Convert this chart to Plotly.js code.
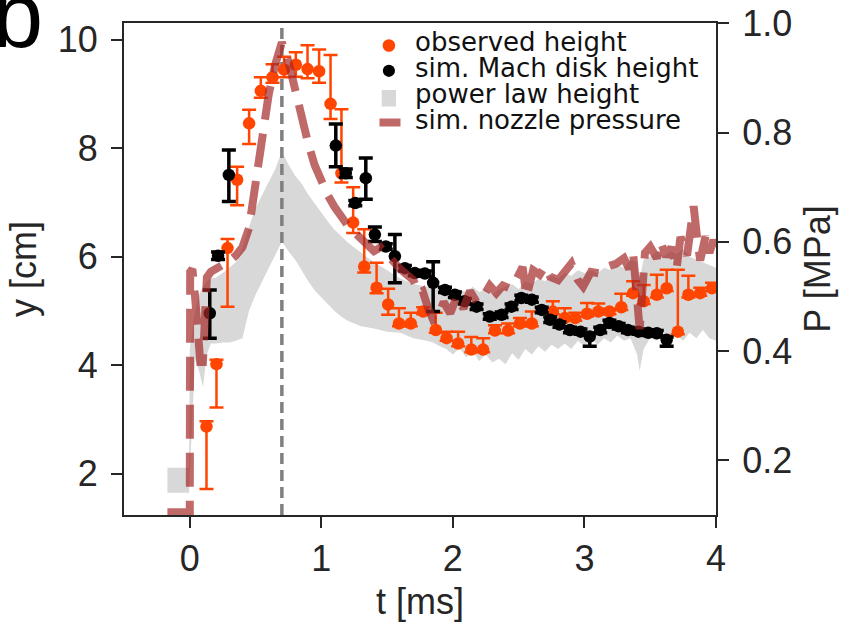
<!DOCTYPE html>
<html>
<head>
<meta charset="utf-8">
<script src="https://cdn.plot.ly/plotly-3.0.1.min.js"></script>
<style>html,body{margin:0;padding:0;background:#fff;}#chart{width:847px;height:622px;}</style>
</head>
<body>
<div id="chart"></div>
<script>
// ---- observed height (cm) ----
const obsT = [0.127,0.203,0.287,0.36,0.451,0.54,0.629,0.717,0.806,0.895,0.983,1.07,1.153,1.242,1.326,1.42,1.508,1.59,1.68,1.774,1.87,1.952,2.04,2.14,2.23,2.32,2.42,2.51,2.60,2.76,2.85,2.93,3.02,3.105,3.19,3.28,3.37,3.45,3.55,3.625,3.71,3.79,3.88,3.97];
const obsY = [2.87,4.02,6.16,7.42,8.46,9.06,9.31,9.45,9.54,9.46,9.42,8.82,7.54,6.63,5.82,5.43,5.12,4.77,4.77,4.99,4.65,4.50,4.40,4.29,4.29,4.64,4.64,4.77,4.77,4.99,4.87,4.87,4.95,4.99,4.99,5.07,5.33,5.18,5.30,5.42,4.62,5.30,5.33,5.42];
const obsUp = [0.1,0.08,0.17,0.24,0.25,0.25,0.24,0.24,0.23,0.44,0.40,0.90,1.18,0.65,0.69,0.46,0.29,0.28,0.2,0.08,0.32,0.12,0.22,0.23,0.21,0.1,0.13,0.1,0.22,0.19,0.18,0.1,0.2,0.15,0.05,0.25,0.22,0.3,0.37,0.34,1.14,0.35,0.1,0.1];
const obsDn = [1.15,0.8,1.08,0.47,0.38,0.13,0.1,0.14,0.22,0.17,0.21,0.28,0.17,0.19,0.11,0.1,0.19,0.05,0.05,0.05,0.05,0.05,0.05,0.05,0.05,0.05,0.05,0.05,0.05,0.05,0.05,0.05,0.05,0.05,0.05,0.05,0.05,0.05,0.05,0.05,0.05,0.05,0.05,0.05];

// ---- simulated Mach disk height (cm) ----
const simT = [0.152,0.215,0.297,1.11,1.186,1.258,1.338,1.407,1.49,1.559,1.635,1.71,1.787,1.85,1.94,2.015,2.09,2.18,2.28,2.37,2.446,2.52,2.60,2.675,2.74,2.81,2.89,2.97,3.04,3.12,3.19,3.26,3.33,3.41,3.485,3.55,3.625];
const simY = [4.96,6.02,7.51,8.05,7.54,6.99,7.45,6.41,6.19,6.01,5.79,5.70,5.69,5.52,5.39,5.30,5.18,5.08,4.90,4.93,5.08,5.24,5.21,5.02,4.84,4.75,4.65,4.62,4.53,4.65,4.78,4.72,4.65,4.62,4.60,4.59,4.47];
const simUp = [0.43,0.07,0.46,0.40,0.08,0.05,0.37,0.14,0.05,0.40,0.05,0.05,0.05,0.39,0.05,0.05,0.05,0.05,0.05,0.05,0.05,0.05,0.05,0.05,0.05,0.05,0.05,0.05,0.05,0.05,0.05,0.05,0.05,0.05,0.05,0.05,0.05];
const simDn = [0.46,0.07,0.49,0.39,0.08,0.05,0.39,0.13,0.05,0.49,0.05,0.05,0.05,0.53,0.05,0.05,0.05,0.05,0.05,0.05,0.05,0.05,0.05,0.05,0.05,0.05,0.05,0.05,0.18,0.05,0.05,0.05,0.05,0.05,0.05,0.05,0.12];

// ---- power law height band (cm) ----
const plT = [-0.17,-0.005,0.0,0.04,0.07,0.1,0.13,0.16,0.2,0.25,0.3,0.35,0.4,0.45,0.5,0.55,0.6,0.65,0.7,0.75,0.8,0.85,0.9,0.95,1.0,1.05,1.1,1.15,1.2,1.25,1.3,1.4,1.5,1.6,1.7,1.8,1.85,1.9,1.95,2.0,2.05,2.1,2.15,2.2,2.25,2.3,2.35,2.4,2.45,2.5,2.55,2.6,2.65,2.7,2.75,2.8,2.85,2.9,2.95,3.0,3.05,3.1,3.15,3.2,3.25,3.3,3.35,3.4,3.42,3.45,3.5,3.55,3.6,3.65,3.7,3.75,3.8,3.85,3.9,3.95,4.0];
const plLow = [1.65,1.65,2.0,4.1,3.9,3.6,4.2,4.4,4.4,4.42,4.42,4.45,4.5,5.0,5.3,5.55,5.8,6.02,6.28,6.1,5.95,5.75,5.55,5.38,5.25,5.12,5.0,4.9,4.82,4.77,4.72,4.68,4.62,4.6,4.5,4.45,4.42,4.35,4.3,4.2,4.32,4.15,4.25,4.08,4.2,4.05,4.12,4.02,4.22,4.1,4.3,4.2,4.35,4.25,4.38,4.3,4.4,4.3,4.45,4.35,4.5,4.38,4.5,4.42,4.55,4.45,4.5,4.2,3.9,4.3,4.5,4.45,4.6,4.5,4.55,4.45,4.6,4.5,4.65,4.5,4.45];
const plHigh = [2.11,2.11,4.3,5.0,5.3,5.45,5.55,5.6,5.62,5.7,5.8,5.9,6.15,6.55,6.9,7.15,7.38,7.62,7.94,7.7,7.5,7.35,7.15,6.98,6.82,6.65,6.5,6.38,6.27,6.17,6.08,5.9,5.75,5.6,5.5,5.45,5.5,5.4,5.45,5.35,5.4,5.35,5.45,5.35,5.4,5.3,5.4,5.45,5.5,5.4,5.55,5.5,5.6,5.55,5.65,5.6,5.7,5.65,5.75,5.7,5.75,5.7,5.8,5.75,5.85,5.8,5.95,5.9,5.6,5.95,6.0,6.1,6.0,6.1,6.05,6.15,6.0,5.95,5.9,5.85,5.8];

// ---- simulated nozzle pressure (MPa) ----
const pT = [-0.17,0.0,0.003,0.02,0.04,0.06,0.08,0.1,0.115,0.13,0.16,0.2,0.25,0.3,0.35,0.4,0.45,0.5,0.55,0.6,0.65,0.7,0.75,0.8,0.85,0.9,0.95,1.0,1.05,1.1,1.15,1.2,1.25,1.3,1.35,1.4,1.45,1.5,1.55,1.6,1.65,1.7,1.74,1.77,1.81,1.85,1.88,1.93,1.98,2.03,2.08,2.13,2.18,2.23,2.28,2.33,2.38,2.43,2.48,2.53,2.56,2.61,2.66,2.7,2.74,2.8,2.86,2.9,2.95,2.99,3.05,3.12,3.18,3.24,3.3,3.34,3.37,3.42,3.46,3.5,3.55,3.58,3.62,3.66,3.7,3.73,3.78,3.81,3.83,3.86,3.88,3.92,3.95,3.98,4.0];
const pV = [0.105,0.105,0.545,0.55,0.50,0.42,0.38,0.38,0.45,0.535,0.545,0.55,0.555,0.565,0.575,0.59,0.625,0.71,0.80,0.87,0.925,0.965,0.93,0.875,0.825,0.78,0.74,0.71,0.685,0.664,0.645,0.63,0.618,0.605,0.595,0.583,0.59,0.575,0.565,0.55,0.54,0.53,0.506,0.51,0.48,0.457,0.46,0.49,0.469,0.50,0.478,0.51,0.49,0.50,0.52,0.506,0.52,0.515,0.53,0.554,0.50,0.548,0.54,0.555,0.536,0.53,0.548,0.56,0.53,0.518,0.545,0.542,0.555,0.56,0.57,0.55,0.579,0.44,0.58,0.591,0.57,0.60,0.573,0.59,0.55,0.609,0.575,0.62,0.665,0.60,0.566,0.61,0.58,0.603,0.59];

// ---- peak time marker and axes ----
const peakT = [0.7, 0.7];
const yRange = [1.24, 10.31];
const pRange = [0.1, 1.0005];
const xTicks = [0, 1, 2, 3, 4];
const yTicks = [2, 4, 6, 8, 10];
const pTicks = [0.2, 0.4, 0.6, 0.8, 1.0];
const pTickText = ['0.2', '0.4', '0.6', '0.8', '1.0'];
const legendLabels = ['observed height', 'sim. Mach disk height', 'power law height', 'sim. nozzle pressure'];

const ORANGE = '#ff4500';
const BROWN = 'rgba(165,42,42,0.7)';
const GRAY = 'rgb(216,216,216)';
const AX = '#262626';
const TICKFONT = {family: 'Liberation Sans, Arial, sans-serif', size: 36, color: AX};

// plot area in pixels
const L = 124, R = 716, T = 23, B = 515;
const xp = px => (px - L) / (R - L);
const yp = py => (B - py) / (B - T);

const traces = [
  {x: plT, y: plLow, type: 'scatter', mode: 'lines', line: {width: 0, color: GRAY}, showlegend: false, hoverinfo: 'skip'},
  {x: plT, y: plHigh, type: 'scatter', mode: 'lines', fill: 'tonexty', fillcolor: GRAY, line: {width: 0, color: GRAY}, showlegend: false, name: legendLabels[2]},
  {x: peakT, y: yRange, type: 'scatter', mode: 'lines', line: {color: '#808080', width: 3.5, dash: '11px,6px'}, showlegend: false, hoverinfo: 'skip'},
  {x: obsT, y: obsY, type: 'scatter', mode: 'markers', name: legendLabels[0], showlegend: false,
   marker: {color: ORANGE, size: 12.5, line: {width: 0}},
   error_y: {type: 'data', symmetric: false, array: obsUp, arrayminus: obsDn, color: ORANGE, thickness: 2.5, width: 7}},
  {x: simT, y: simY, type: 'scatter', mode: 'markers', name: legendLabels[1], showlegend: false,
   marker: {color: '#000', size: 12.5, line: {width: 0}},
   error_y: {type: 'data', symmetric: false, array: simUp, arrayminus: simDn, color: '#000', thickness: 3.5, width: 7}},
  {x: pT, y: pV, yaxis: 'y2', type: 'scatter', mode: 'lines', name: legendLabels[3], showlegend: false,
   line: {color: BROWN, width: 8, dash: '34px,14px'}}
];

const legendRows = [42, 68, 93.5, 119.5];
const annotations = legendLabels.map((t, i) => ({
  text: t, xref: 'paper', yref: 'paper', x: xp(414), y: yp(legendRows[i]),
  xanchor: 'left', yanchor: 'middle', showarrow: false, borderpad: 0,
  font: {family: 'DejaVu Sans, sans-serif', size: 26, color: '#111'}
}));
annotations.push({
  text: 'b', xref: 'paper', yref: 'paper', x: xp(-9), y: yp(15),
  xanchor: 'left', yanchor: 'middle', showarrow: false, borderpad: 0,
  font: {family: 'Liberation Sans, Arial, sans-serif', size: 92, color: '#000'}
});

const shapes = [
  {type: 'circle', xref: 'paper', yref: 'paper', x0: xp(382.6), x1: xp(395.2), y0: yp(51.8), y1: yp(39.2), fillcolor: ORANGE, line: {width: 0}},
  {type: 'circle', xref: 'paper', yref: 'paper', x0: xp(382.8), x1: xp(395.0), y0: yp(76.9), y1: yp(64.7), fillcolor: '#000', line: {width: 0}},
  {type: 'rect', xref: 'paper', yref: 'paper', x0: xp(381.7), x1: xp(396), y0: yp(106.5), y1: yp(90), fillcolor: GRAY, line: {width: 0}},
  {type: 'line', xref: 'paper', yref: 'paper', x0: xp(379.5), x1: xp(400.5), y0: yp(122.5), y1: yp(122.5), line: {color: BROWN, width: 8}}
];

const axisBase = {
  ticks: 'outside', ticklen: 11, tickwidth: 2, tickcolor: AX,
  showline: true, linewidth: 2, linecolor: AX, showgrid: false, zeroline: false,
  tickfont: TICKFONT
};

const layout = {
  width: 847, height: 622,
  margin: {l: L, r: 847 - R, t: T, b: 622 - B, pad: 0},
  paper_bgcolor: '#fff', plot_bgcolor: '#fff',
  showlegend: false,
  xaxis: Object.assign({}, axisBase, {range: [-0.5, 4], tickvals: xTicks, mirror: true,
    title: {text: 't [ms]', font: TICKFONT, standoff: 12}}),
  yaxis: Object.assign({}, axisBase, {range: yRange, tickvals: yTicks, mirror: true, ticklabelstandoff: 6,
    title: {text: 'y [cm]', font: TICKFONT, standoff: 10}}),
  yaxis2: Object.assign({}, axisBase, {range: pRange, tickvals: pTicks, ticktext: pTickText, overlaying: 'y', side: 'right', ticklabelstandoff: 6,
    title: {text: 'P [MPa]', font: TICKFONT, standoff: 14}}),
  shapes: shapes,
  annotations: annotations
};

Plotly.newPlot('chart', traces, layout, {staticPlot: true, displayModeBar: false});
</script>
</body>
</html>
